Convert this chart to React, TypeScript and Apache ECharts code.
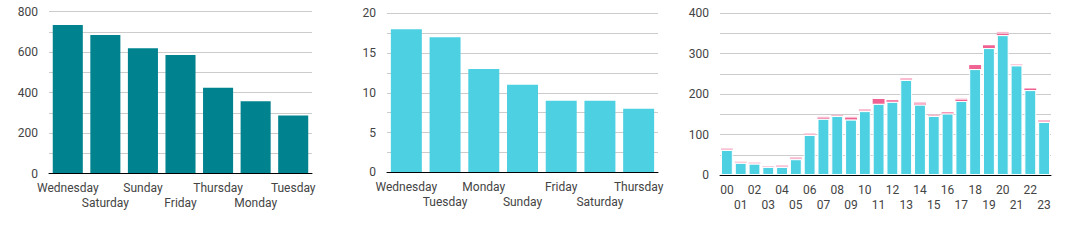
import React, { useEffect, useRef } from "react";
import * as echarts from "echarts";

const days1 = ["Wednesday", "Saturday", "Sunday", "Friday", "Thursday", "Monday", "Tuesday"];
const values1 = [733, 684, 618, 585, 424, 357, 287];

const days2 = ["Wednesday", "Tuesday", "Monday", "Sunday", "Friday", "Saturday", "Thursday"];
const values2 = [18, 17, 13, 11, 9, 9, 8];

const hours = ["00","01","02","03","04","05","06","07","08","09","10","11","12","13","14","15","16","17","18","19","20","21","22","23"];
const hoursBase = [62, 30, 28, 20, 20, 39, 99, 139, 146, 137, 158, 176, 181, 235, 174, 146, 152, 183, 262, 314, 346, 271, 210, 131];
const hoursHot: (number | string)[] = ["-", "-", "-", "-", "-", "-", "-", 2, "-", 4, "-", 12, 4, "-", 3, "-", 3, 3, 10, 7, 3, "-", 4, "-"];
const hoursLight: (number | string)[] = [4, 3, 3, 2, 4, 5, 4, 3, 3, 3, 5, "-", "-", 5, 3, 4, "-", 3, "-", "-", 5, 3, "-", 5];

const FONT = "Roboto";
const LABEL = "#444";
const GRID = "#cccccc";

function xAxis(data: string[], gridIndex: number) {
  return {
    type: "category",
    gridIndex,
    data,
    z: 5,
    axisTick: { show: false },
    axisLine: { show: true, lineStyle: { color: "#000", width: 1 } },
    axisLabel: {
      interval: 0,
      margin: 7,
      color: LABEL,
      fontFamily: FONT,
      fontSize: 12,
      lineHeight: 15,
      hideOverlap: false,
      formatter: (v: string, i: number) => (i % 2 ? "\n" + v : v),
    },
  };
}

function yAxis(max: number, interval: number, gridIndex: number) {
  return {
    type: "value",
    gridIndex,
    min: 0,
    max,
    interval,
    axisLine: { show: false },
    axisTick: { show: false },
    axisLabel: { color: LABEL, fontFamily: FONT, fontSize: 12, margin: 11 },
    splitLine: { show: true, lineStyle: { color: GRID, width: 1 } },
    minorTick: { show: false, splitNumber: 2 },
    minorSplitLine: { show: true, lineStyle: { color: GRID, width: 1 } },
  };
}

export default function App() {
  const ref = useRef<HTMLDivElement>(null);
  useEffect(() => {
    if (!ref.current) return;
    const chart = echarts.init(ref.current, undefined, { renderer: "svg" });
    chart.setOption({
      animation: false,
      grid: [
        { left: 49, top: 11.5, width: 263, height: 162 },
        { left: 387, top: 13.3, width: 271, height: 159 },
        { left: 720, top: 13.3, width: 331, height: 161.7 },
      ],
      xAxis: [xAxis(days1, 0), xAxis(days2, 1), xAxis(hours, 2)],
      yAxis: [yAxis(800, 200, 0), yAxis(20, 5, 1), yAxis(400, 100, 2)],
      series: [
        {
          type: "bar",
          xAxisIndex: 0,
          yAxisIndex: 0,
          data: values1,
          barCategoryGap: "20%",
          itemStyle: { color: "#00838f" },
        },
        {
          type: "bar",
          xAxisIndex: 1,
          yAxisIndex: 1,
          data: values2,
          barCategoryGap: "20%",
          itemStyle: { color: "#4dd0e1" },
        },
        {
          type: "bar",
          xAxisIndex: 2,
          yAxisIndex: 2,
          stack: "h",
          data: hoursBase,
          barCategoryGap: "14%",
          z: 3,
          itemStyle: { color: "#4dd0e1", borderColor: "#fff", borderWidth: 1 },
        },
        {
          type: "bar",
          xAxisIndex: 2,
          yAxisIndex: 2,
          stack: "h",
          data: hoursHot,
          barCategoryGap: "14%",
          z: 2,
          itemStyle: { color: "#f06292" },
        },
        {
          type: "bar",
          xAxisIndex: 2,
          yAxisIndex: 2,
          stack: "h",
          data: hoursLight,
          barCategoryGap: "14%",
          z: 2,
          itemStyle: { color: "#f8bbd0" },
        },
      ],
    });
    return () => chart.dispose();
  }, []);
  return (
    <div
      ref={ref}
      style={{ position: "absolute", left: 0, top: 0, width: 1081, height: 245, background: "#fff" }}
    />
  );
}
